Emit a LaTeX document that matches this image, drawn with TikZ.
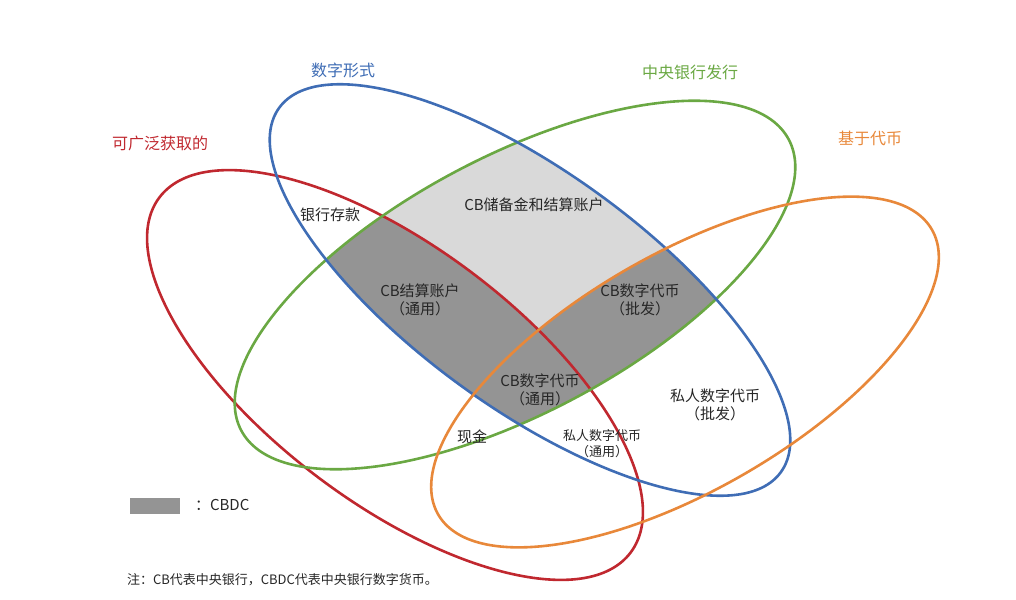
\documentclass[tikz,border=0pt]{standalone}
\usepackage{fontspec}
\setmainfont{Noto Sans CJK SC}
\begin{document}
\begin{tikzpicture}[x=0.5pt,y=-0.5pt,
  lab/.style={font=\fontsize{7.5}{9}\selectfont,align=center,text=black!85},
  ttl/.style={font=\fontsize{8}{10}\selectfont},
  ell/.style={line width=1.3pt}]
\definecolor{cb}{HTML}{3F6DB5}\definecolor{cg}{HTML}{6AA843}
\definecolor{co}{HTML}{E8883A}\definecolor{cr}{HTML}{C0282F}
\useasboundingbox (0,0) rectangle (1016,599);
\def\blueE{(530,290) ellipse [x radius=310,y radius=118,rotate=-36]}
\def\greenE{(515,285) ellipse [x radius=310,y radius=128,rotate=28]}
\def\redE{(395,375) ellipse [x radius=295,y radius=128,rotate=-37]}
\def\orangeE{(685,372) ellipse [x radius=285,y radius=118,rotate=30]}
\begin{scope}\clip \blueE; \fill[black!15] \greenE;\end{scope}
\begin{scope}\clip \blueE; \clip \greenE; \fill[black!42] \redE; \fill[black!42] \orangeE;\end{scope}
\draw[ell,cr] \redE; \draw[ell,cg] \greenE; \draw[ell,cb] \blueE; \draw[ell,co] \orangeE;
\node[ttl,text=cb] (t1) at (343,70) {数字形式};
\node[ttl,text=cg] (t2) at (690,72) {中央银行发行};
\node[ttl,text=co] (t3) at (870,138) {基于代币};
\node[ttl,text=cr] (t4) at (160,143) {可广泛获取的};
\node[lab] (a) at (330,215) {银行存款};
\node[lab] (b) at (534,205) {CB储备金和结算账户};
\node[lab] (c) at (420,300) {CB结算账户\\（通用）};
\node[lab] (d) at (640,300) {CB数字代币\\（批发）};
\node[lab] (e) at (540,390) {CB数字代币\\（通用）};
\node[lab] (f) at (715,405) {私人数字代币\\（批发）};
\node[lab] (g) at (472,437) {现金};
\node[lab,font=\fontsize{6.5}{8}\selectfont] (h) at (602,444) {私人数字代币\\（通用）};
\fill[black!42] (130,498) rectangle (180,514);
\node[lab,anchor=west] (l) at (188,505) {：CBDC};
\node[lab,anchor=west,font=\fontsize{6.5}{8}\selectfont] (n) at (120,580) {注：CB代表中央银行，CBDC代表中央银行数字货币。};
\end{tikzpicture}
\end{document}
